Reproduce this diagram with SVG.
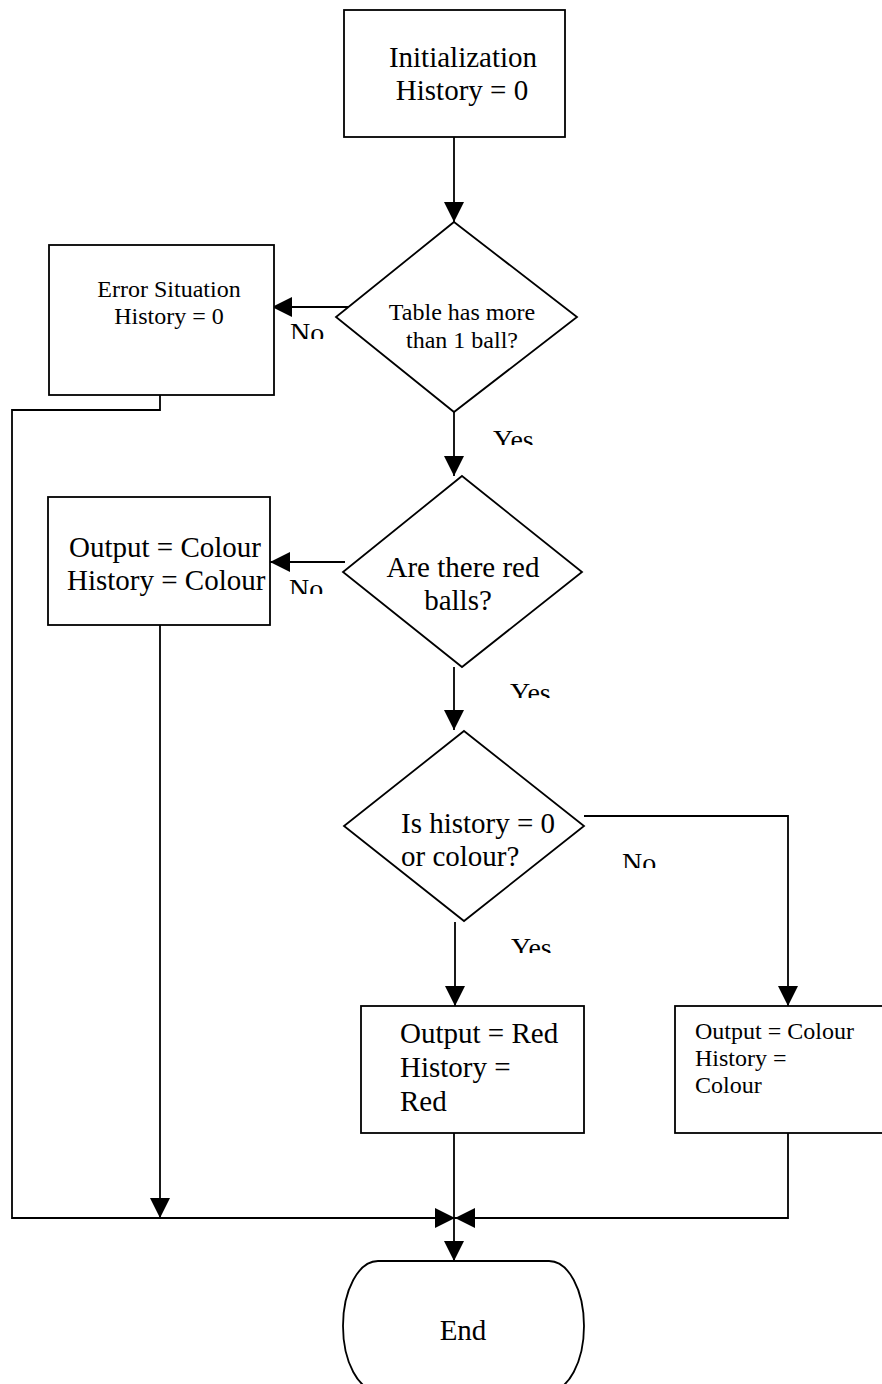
<svg xmlns="http://www.w3.org/2000/svg" width="882" height="1384" viewBox="0 0 882 1384">
  <style>
    .shape { fill: #fff; stroke: #000; stroke-width: 1.8; }
    .wire { fill: none; stroke: #000; stroke-width: 1.8; }
    .t29 { font-family: "Liberation Serif", "Times New Roman", serif; font-size: 29px; fill: #000; }
    .t24 { font-family: "Liberation Serif", "Times New Roman", serif; font-size: 24px; fill: #000; }
    .lbl { font-family: "Liberation Serif", "Times New Roman", serif; font-size: 28px; fill: #000; }
    .mid { text-anchor: middle; }
  </style>
  <defs>
    <marker id="arrow" viewBox="0 0 20 20" refX="20" refY="10" markerWidth="20" markerHeight="20" markerUnits="userSpaceOnUse" orient="auto">
      <path d="M0,0 L20,10 L0,20 Z" fill="#000"/>
    </marker>
    <!-- label text boxes are shorter than the glyphs, so the labels are cut off -->
    <clipPath id="clipNo1"><rect x="280" y="315" width="60" height="24"/></clipPath>
    <clipPath id="clipYes1"><rect x="485" y="420" width="70" height="25"/></clipPath>
    <clipPath id="clipNo2"><rect x="280" y="572" width="60" height="22"/></clipPath>
    <clipPath id="clipYes2"><rect x="500" y="675" width="70" height="23"/></clipPath>
    <clipPath id="clipNo3"><rect x="612" y="845" width="60" height="23"/></clipPath>
    <clipPath id="clipYes3"><rect x="500" y="930" width="70" height="23"/></clipPath>
  </defs>

  <g id="connectors">
    <path class="wire" d="M454,137 V222" marker-end="url(#arrow)"/>
    <path class="wire" d="M349,307 H272" marker-end="url(#arrow)"/>
    <path class="wire" d="M454,412 V476" marker-end="url(#arrow)"/>
    <path class="wire" d="M160,395 V410 H12 V1218 H455" marker-end="url(#arrow)"/>
    <path class="wire" d="M345,562 H270" marker-end="url(#arrow)"/>
    <path class="wire" d="M454,667 V730" marker-end="url(#arrow)"/>
    <path class="wire" d="M584,816 H788 V1006" marker-end="url(#arrow)"/>
    <path class="wire" d="M455,922 V1006" marker-end="url(#arrow)"/>
    <path class="wire" d="M160,625 V1218" marker-end="url(#arrow)"/>
    <path class="wire" d="M788,1133 V1218 H455" marker-end="url(#arrow)"/>
    <path class="wire" d="M454,1133 V1261" marker-end="url(#arrow)"/>
  </g>

  <g id="labels">
    <text class="lbl" x="290" y="342" clip-path="url(#clipNo1)">No</text>
    <text class="lbl" x="493" y="449" clip-path="url(#clipYes1)">Yes</text>
    <text class="lbl" x="289" y="598" clip-path="url(#clipNo2)">No</text>
    <text class="lbl" x="510" y="702" clip-path="url(#clipYes2)">Yes</text>
    <text class="lbl" x="622" y="872" clip-path="url(#clipNo3)">No</text>
    <text class="lbl" x="511" y="957" clip-path="url(#clipYes3)">Yes</text>
  </g>

  <g id="init">
    <rect class="shape" x="344" y="10" width="221" height="127"/>
    <text class="t29 mid" x="463" y="67">Initialization</text>
    <text class="t29 mid" x="462" y="100">History = 0</text>
  </g>

  <g id="check-balls">
    <polygon class="shape" points="454,222 577,317 454,412 336,317"/>
    <text class="t24 mid" x="462" y="320">Table has more</text>
    <text class="t24 mid" x="462" y="348">than 1 ball?</text>
  </g>

  <g id="error">
    <rect class="shape" x="49" y="245" width="225" height="150"/>
    <text class="t24 mid" x="169" y="297">Error Situation</text>
    <text class="t24 mid" x="169" y="324">History = 0</text>
  </g>

  <g id="check-red">
    <polygon class="shape" points="462,476 582,572 462,667 343,572"/>
    <text class="t29 mid" x="463" y="577">Are there red</text>
    <text class="t29 mid" x="458" y="610">balls?</text>
  </g>

  <g id="colour-left">
    <rect class="shape" x="48" y="497" width="222" height="128"/>
    <text class="t29" x="69" y="557">Output = Colour</text>
    <text class="t29" x="67" y="590">History = Colour</text>
  </g>

  <g id="check-history">
    <polygon class="shape" points="464,731 584,826 464,921 344,826"/>
    <text class="t29" x="401" y="833">Is history = 0</text>
    <text class="t29" x="401" y="866">or colour?</text>
  </g>

  <g id="red">
    <rect class="shape" x="361" y="1006" width="223" height="127"/>
    <text class="t29" x="400" y="1043">Output = Red</text>
    <text class="t29" x="400" y="1077">History =</text>
    <text class="t29" x="400" y="1111">Red</text>
  </g>

  <g id="colour-right">
    <rect class="shape" x="675" y="1006" width="220" height="127"/>
    <text class="t24" x="695" y="1039">Output = Colour</text>
    <text class="t24" x="695" y="1066">History =</text>
    <text class="t24" x="695" y="1093">Colour</text>
  </g>

  <g id="end">
    <path class="shape" d="M378,1261 H549 A35,65 0 0 1 549,1391 H378 A35,65 0 0 1 378,1261 Z"/>
    <text class="t29 mid" x="463" y="1340">End</text>
  </g>
</svg>
